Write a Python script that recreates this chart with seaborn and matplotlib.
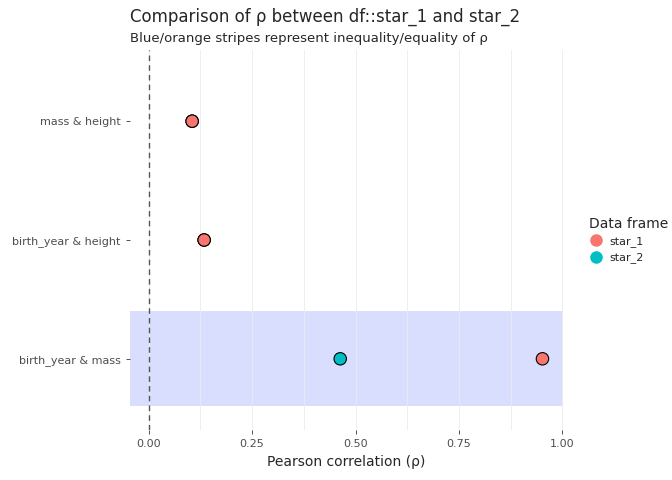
import matplotlib
matplotlib.use("Agg")
import matplotlib.pyplot as plt
from matplotlib.lines import Line2D
from matplotlib.patches import Rectangle
import seaborn as sns
import pandas as pd

pairs = ["mass & height", "birth_year & height", "birth_year & mass"]
star_1 = [0.105, 0.134, 0.952]
star_2 = [0.105, 0.134, 0.463]
unequal = [False, False, True]
colors = {"star_1": "#F8766D", "star_2": "#00BFC4"}

df = pd.DataFrame({
    "pair": pairs * 2,
    "rho": star_2 + star_1,
    "frame": ["star_2"] * 3 + ["star_1"] * 3,
})
ypos = {p: i for i, p in enumerate(pairs)}
df["y"] = df["pair"].map(ypos)

sns.set_style("white")
fig = plt.figure(figsize=(6.72, 4.8), dpi=100)
ax = fig.add_axes([0.193, 0.104, 0.645, 0.792])

for i, flag in enumerate(unequal):
    if flag:
        ax.axhspan(i - 0.4, i + 0.4, color="#0022FF", alpha=0.15, lw=0, zorder=0)
for x in [0, 0.125, 0.25, 0.375, 0.5, 0.625, 0.75, 0.875, 1.0]:
    ax.axvline(x, color="#EBEBEB", lw=0.6, zorder=0.5)
ax.axvline(0, color="#555555", ls=(0, (4, 3)), lw=1, zorder=1)

sns.scatterplot(data=df, x="rho", y="y", hue="frame", palette=colors, s=80,
                edgecolor="black", linewidth=0.8, legend=False, ax=ax, zorder=3)

ax.set_xlim(-0.046, 1.002)
ax.set_ylim(2.6, -0.6)
ax.set_xticks([0, 0.25, 0.5, 0.75, 1.0])
ax.set_xticklabels(["0.00", "0.25", "0.50", "0.75", "1.00"], fontsize=8, color="#4D4D4D")
ax.set_yticks(range(3))
ax.set_yticklabels(pairs, fontsize=8, color="#4D4D4D")
ax.tick_params(length=3, color="#333333", width=0.6, bottom=True, left=True)
for s in ax.spines.values():
    s.set_visible(False)
ax.set_xlabel("Pearson correlation (ρ)", fontsize=10)
ax.set_ylabel("")

fig.text(0.193, 0.955, "Comparison of ρ between df::star_1 and star_2", fontsize=12)
fig.text(0.193, 0.912, "Blue/orange stripes represent inequality/equality of ρ", fontsize=9.5)

handles = [Line2D([], [], marker="o", ls="", markersize=8, color=c) for c in colors.values()]
leg = fig.legend(handles, list(colors), title="Data frame", loc="center left",
                 bbox_to_anchor=(0.862, 0.5), frameon=False, fontsize=8,
                 title_fontsize=10, handlelength=1.2, handletextpad=0.6)
leg._legend_box.align = "left"

fig.savefig("out.png", dpi=100)
